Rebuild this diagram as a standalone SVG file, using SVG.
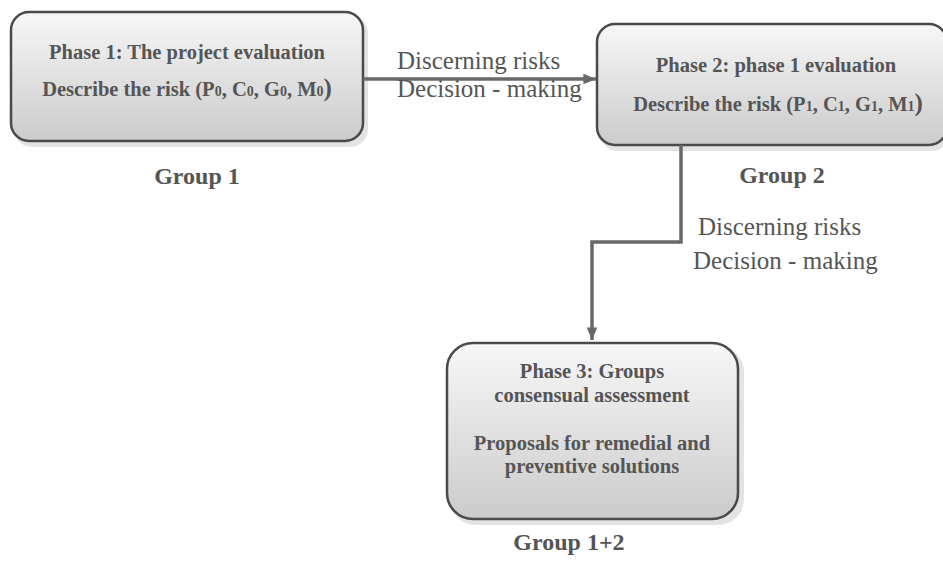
<svg xmlns="http://www.w3.org/2000/svg" width="943" height="563" viewBox="0 0 943 563">
<style>
.box{fill:url(#g);stroke:#4a4a4a;stroke-width:2.5}
.sh{fill:#c8c8c8;opacity:0.5}
.t{font-family:"Liberation Serif","Times New Roman",serif;font-weight:bold;font-size:20.5px;fill:#555;text-anchor:middle}
.grp{font-family:"Liberation Serif","Times New Roman",serif;font-weight:bold;font-size:24px;fill:#555;text-anchor:middle}
.lab{font-family:"Liberation Serif","Times New Roman",serif;font-size:25px;fill:#555}
.sub{font-size:14px}
.par{font-size:25px}
.c{fill:none;stroke:#686868;stroke-width:3.5}
</style>
<defs>
<linearGradient id="g" x1="0" y1="0" x2="0" y2="1">
<stop offset="0" stop-color="#f7f7f7"/>
<stop offset="1" stop-color="#cbcbcb"/>
</linearGradient>
<marker id="ah" markerWidth="4" markerHeight="4" refX="3.6" refY="2" orient="auto" markerUnits="strokeWidth">
<path d="M0,0.5 L3.6,2 L0,3.5 Z" fill="#686868"/>
</marker>
</defs>
<rect width="943" height="563" fill="#fff"/>
<g id="node-phase1">
<rect class="sh" x="14" y="15" width="354" height="132" rx="18"/>
<rect class="box" x="11" y="12" width="352" height="129" rx="18"/>
<text class="t" x="187" y="59">Phase 1: The project evaluation</text>
<text class="t" x="187" y="96">Describe the risk (P<tspan class="sub">0</tspan>, C<tspan class="sub">0</tspan>, G<tspan class="sub">0</tspan>, M<tspan class="sub">0</tspan><tspan class="par">)</tspan></text>
</g>
<g id="node-phase2">
<rect class="sh" x="600" y="27" width="350" height="124" rx="18"/>
<rect class="box" x="597" y="24" width="350" height="121" rx="18"/>
<text class="t" x="776" y="72">Phase 2: phase 1 evaluation</text>
<text class="t" x="778" y="111">Describe the risk (P<tspan class="sub">1</tspan>, C<tspan class="sub">1</tspan>, G<tspan class="sub">1</tspan>, M<tspan class="sub">1</tspan><tspan class="par">)</tspan></text>
</g>
<g id="node-phase3">
<rect class="sh" x="450" y="346" width="294" height="179" rx="26"/>
<rect class="box" x="447" y="343" width="291" height="176" rx="26"/>
<text class="t" x="592" y="378">Phase 3: Groups</text>
<text class="t" x="592" y="402">consensual assessment</text>
<text class="t" x="592" y="450">Proposals for remedial and</text>
<text class="t" x="592" y="473">preventive solutions</text>
</g>
<g id="group-labels">
<text class="grp" x="197" y="184">Group 1</text>
<text class="grp" x="782" y="183">Group 2</text>
<text class="grp" x="569" y="550">Group 1+2</text>
</g>
<g id="connectors">
<line class="c" x1="363" y1="79" x2="596" y2="79" marker-end="url(#ah)"/>
<polyline class="c" points="681,145 681,242 592,242 592,340" marker-end="url(#ah)"/>
<text class="lab" x="397" y="69">Discerning risks</text>
<text class="lab" x="397" y="97">Decision - making</text>
<text class="lab" x="698" y="235">Discerning risks</text>
<text class="lab" x="693" y="269">Decision - making</text>
</g>
</svg>
